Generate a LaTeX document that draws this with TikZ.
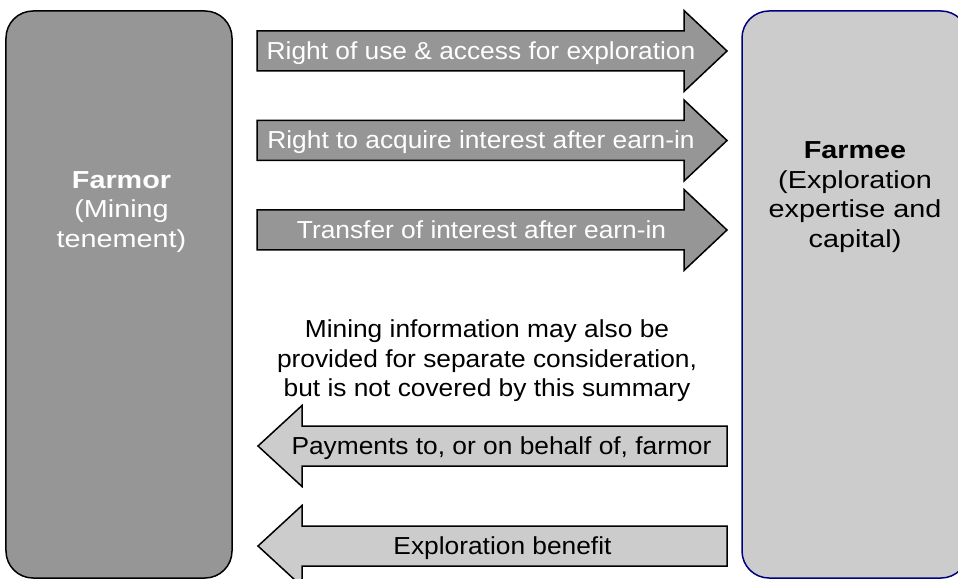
\documentclass[tikz,border=0pt]{standalone}
\usepackage{fontspec}
\setmainfont{Liberation Sans}[FakeStretch=1.07]
\newfontfamily\sideboxfont{Liberation Sans}[FakeStretch=1.17]
\definecolor{darkfill}{RGB}{150,150,150}
\definecolor{lightfill}{RGB}{204,204,204}
\definecolor{navyline}{RGB}{0,0,128}
\tikzset{
  bigbox/.style={rectangle, rounded corners=27bp, line width=1.5bp, inner sep=0pt, outer sep=0pt},
  darkarrow/.style={fill=darkfill, draw=black, line width=1.5bp, line join=miter},
  lightarrow/.style={fill=lightfill, draw=black, line width=1.5bp, line join=miter},
  boxtext/.style={align=center, inner sep=0pt},
  sidetext/.style={align=center, inner sep=0pt, font=\fontsize{24.6bp}{29.5bp}\sideboxfont},
  wtext/.style={text=white, inner sep=0pt},
  btext/.style={text=black, inner sep=0pt}
}
\begin{document}
\begin{tikzpicture}[x=1bp, y=-1bp, font=\fontsize{24.6bp}{29.5bp}\selectfont]
\useasboundingbox (0,0) rectangle (958,579);
% side boxes
\node[bigbox, fill=darkfill, draw=black, minimum width=226bp, minimum height=567bp] (farmorbox) at (119,294.5) {};
\node[bigbox, fill=lightfill, draw=navyline, minimum width=226bp, minimum height=567bp] (farmeebox) at (855,294.5) {};
\node[sidetext, text=white] (farmor) at (121.5,212) {\textbf{Farmor}\\(Mining\\tenement)};
\node[sidetext, text=black] (farmee) at (855,197) {\textbf{Farmee}\\(Exploration\\expertise and\\capital)};
% right-pointing arrows
\draw[darkarrow] (257,31) -- (684,31) -- (684,10.5) -- (727,51) -- (684,91.5) -- (684,71) -- (257,71) -- cycle;
\node[wtext, anchor=base] (a1) at (481,59.5) {Right of use \& access for exploration};
\draw[darkarrow] (257,120.5) -- (684,120.5) -- (684,100) -- (727,140.5) -- (684,181) -- (684,160.5) -- (257,160.5) -- cycle;
\node[wtext, anchor=base] (a2) at (481,149) {Right to acquire interest after earn-in};
\draw[darkarrow] (257,210) -- (684,210) -- (684,189.5) -- (727,230) -- (684,270.5) -- (684,250) -- (257,250) -- cycle;
\node[wtext, anchor=base] (a3) at (481.5,238.5) {Transfer of interest after earn-in};
% middle note
\node[boxtext, text=black] (note) at (487,361) {Mining information may also be\\provided for separate consideration,\\but is not covered by this summary};
% left-pointing arrows
\draw[lightarrow] (727,426) -- (302,426) -- (302,405.5) -- (258,446) -- (302,486.5) -- (302,466) -- (727,466) -- cycle;
\node[btext, anchor=base] (b1) at (501.5,454.5) {Payments to, or on behalf of, farmor};
\draw[lightarrow] (727,526) -- (302,526) -- (302,505.5) -- (258,546) -- (302,586.5) -- (302,566) -- (727,566) -- cycle;
\node[btext, anchor=base] (b2) at (502.5,554.5) {Exploration benefit};
\end{tikzpicture}
\end{document}
